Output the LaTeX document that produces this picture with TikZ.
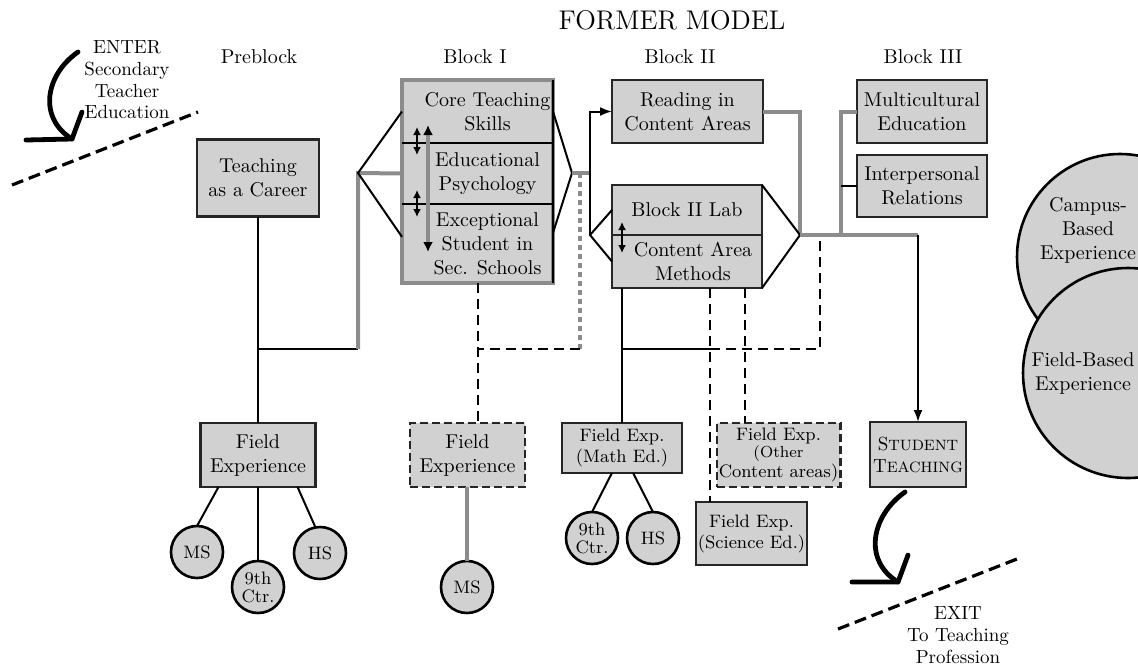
\documentclass[tikz,border=0pt]{standalone}
\usepackage{fontspec}
\usetikzlibrary{positioning,arrows.meta}

\newcommand{\indt}{\hspace*{10pt}}

\tikzset{
  blk/.style={rectangle, draw=black!85, line width=1.3pt, fill=black!18, align=center,
    inner sep=1pt, outer sep=0pt, font=\fontsize{10}{12}\selectfont},
  blkfill/.style={blk, draw=none},
  smallblk/.style={blk, font=\fontsize{9}{10.5}\selectfont},
  dashblk/.style={blk, dash pattern=on 4pt off 2pt},
  ring/.style={circle, draw=black, line width=1.3pt, fill=black!18, minimum size=26pt,
    inner sep=0pt, outer sep=0pt, align=center, font=\fontsize{9}{9}\selectfont},
  hd/.style={font=\fontsize{10}{12}\selectfont, align=center},
  wire/.style={line width=1pt},
  greywire/.style={draw=black!45, line width=2pt},
  dashwire/.style={line width=1pt, dash pattern=on 5pt off 3pt},
  greydots/.style={draw=black!45, line width=2.2pt, dash pattern=on 2.5pt off 2pt},
  dblarrow/.style={{Latex[length=4pt,width=4pt]}-{Latex[length=4pt,width=4pt]}, line width=1pt},
  bigarrow/.style={line width=2.4pt, line cap=round, line join=round},
  cutline/.style={line width=1.6pt, dash pattern=on 6pt off 3pt},
}

\begin{document}
\begin{tikzpicture}[x=0.5pt, y=-0.5pt]
  \clip (0,0) rectangle (1138,665);

  % headings
  \node[font=\fontsize{13.5}{16}\selectfont] (title) at (672,20) {FORMER MODEL};
  \node[hd] (hPre) at (259,57) {Preblock};
  \node[hd] (hI) at (475,57) {Block I};
  \node[hd] (hII) at (680,57) {Block II};
  \node[hd] (hIII) at (923,57) {Block III};
  \node[hd, font=\fontsize{9.5}{10.8}\selectfont] (enter) at (127,80) {ENTER\\Secondary\\Teacher\\Education};
  \node[hd, font=\fontsize{9.5}{10.8}\selectfont] (exit) at (958,635) {EXIT\\To Teaching\\Profession};

  % preblock
  \node[blk, minimum width=61pt, minimum height=38.5pt] (career) at (258,178) {Teaching\\as a Career};
  \node[blk, minimum width=57.5pt, minimum height=32pt] (fe0) at (258,455) {Field\\Experience};

  % block I
  \node[blkfill, minimum width=75.5pt, minimum height=31.5pt] (core) at (477.5,111.5) {\indt Core Teaching\\\indt Skills};
  \node[blkfill, minimum width=75.5pt, minimum height=30.5pt, below=0pt of core] (edu) {\indt Educational\\\indt Psychology};
  \node[blkfill, minimum width=75.5pt, minimum height=39.5pt, below=0pt of edu] (exc)
    {\indt Exceptional\\\indt Student in\\\indt Sec. Schools};
  \draw[greywire] (core.north west) rectangle (exc.south east);
  \draw[wire, line width=1.3pt] (core.north east) -- (exc.south east);
  \draw[wire, line width=1.3pt] (core.south west) -- (core.south east);
  \draw[wire, line width=1.3pt] (edu.south west) -- (edu.south east);

  % block II
  \node[blk, minimum width=75.5pt, minimum height=31.5pt] (read) at (687.5,111.5) {Reading in\\Content Areas};
  \node[blk, minimum width=75pt, minimum height=25pt] (lab) at (687,210) {Block II Lab};
  \node[blk, minimum width=75pt, minimum height=26.5pt, below=0pt of lab] (meth)
    {\hspace*{6pt}Content Area\\\hspace*{6pt}Methods};

  % block III
  \node[blk, minimum width=65pt, minimum height=31.5pt] (multi) at (922,111.5) {Multicultural\\Education};
  \node[blk, minimum width=65pt, minimum height=31pt] (inter) at (922,186) {Interpersonal\\Relations};

  \node[ring, minimum size=103pt] (campus) at (1120,257) {};
  \node[ring, minimum size=105pt] (field) at (1128,373) {};
  \node[hd] (campusTxt) at (1088,230) {Campus-\\Based\\Experience};
  \node[hd] (fieldTxt) at (1083,373) {Field-Based\\Experience};

  % field experiences
  \node[dashblk, minimum width=57.5pt, minimum height=32pt] (fe1) at (467.5,455) {Field\\Experience};
  \node[smallblk, minimum width=60pt, minimum height=25pt] (math) at (622,448) {Field Exp.\\(Math Ed.)};
  \node[dashblk, minimum width=55.5pt, minimum height=32pt, font=\fontsize{9}{8.5}\selectfont] (other) at (778.5,455)
    {Field Exp.\\\fontsize{8}{8.5}\selectfont(Other\\Content areas)};
  \node[smallblk, minimum width=54.5pt, minimum height=31.5pt] (sci) at (751.5,533.5) {Field Exp.\\(Science Ed.)};
  \node[blk, minimum width=48pt, minimum height=32.5pt, font=\fontsize{9.5}{11}\selectfont] (stud) at (918,454.5)
    {S{\fontsize{7.5}{8}\selectfont TUDENT}\\T{\fontsize{7.5}{8}\selectfont EACHING}};

  \node[ring] (ms0) at (197,552) {MS};
  \node[ring] (ctr0) at (258,587) {9th\\Ctr.};
  \node[ring] (hs0) at (320,553) {HS};
  \node[ring] (ms1) at (467,587) {MS};
  \node[ring] (ctr1) at (592,538) {9th\\Ctr.};
  \node[ring] (hs1) at (653,538) {HS};

  % preblock connectors
  \coordinate (jPre) at (258,349);
  \coordinate (lI) at (358,173);
  \draw[wire] (career) -- (fe0);
  \draw[wire] (jPre) -- (jPre -| lI);
  \draw[greywire] (jPre -| lI) -- (lI) -- (edu.west);
  \draw[wire] (core.west) -- (lI) -- (exc.175);
  \draw[wire] (fe0.219) -- (ms0.north);
  \draw[wire] (fe0.south) -- (ctr0.north);
  \draw[wire] (fe0.-39) -- (hs0.100);

  % block I connectors
  \coordinate (rI) at (572,173);
  \coordinate (lII) at (590,235);
  \coordinate (dI) at (580,349);
  \draw[wire] (core.east) -- (rI) -- (exc.8);
  \draw[greywire] (rI) -- (rI -| lII);
  \draw[greydots] (dI |- rI) -- (dI);
  \draw[dashwire] (dI) -- (dI -| exc.south);
  \draw[dashwire] (exc.south) -- (fe1.north -| exc.south);
  \draw[greywire] (fe1.south -| ms1.north) -- (ms1.north);
  \draw[draw=black!45, line width=2pt, {Latex[black,length=5pt,width=5pt]}-{Latex[black,length=5pt,width=5pt]}]
    ([xshift=13pt,yshift=9pt]core.south west) -- ([xshift=13pt,yshift=-54.5pt]core.south west);
  \draw[dblarrow] ([xshift=7.5pt,yshift=8pt]core.south west) -- ([xshift=7.5pt,yshift=-6pt]core.south west);
  \draw[dblarrow] ([xshift=7.5pt,yshift=7pt]edu.south west) -- ([xshift=7.5pt,yshift=-6.5pt]edu.south west);

  % block II connectors
  \coordinate (rII) at (800,235);
  \coordinate (bIII) at (841,235);
  \coordinate (jIII) at (918,235);
  \draw[wire, -{Latex[length=6pt]}] (lII) |- (read.west);
  \draw[wire] (lab.west) -- (lII) -- (meth.west);
  \draw[greywire] (read.east) -| (rII);
  \draw[wire] (lab.north east) -- (rII) -- (meth.south east);
  \draw[dblarrow] ([xshift=5pt,yshift=6.5pt]lab.south west) -- ([xshift=5pt,yshift=-9pt]lab.south west);

  \coordinate (dSci) at (710,349);
  \coordinate (dOth) at (745,349);
  \coordinate (dIII) at (820,349);
  \draw[wire] (math.north |- meth.south) -- (math.north);
  \draw[wire] (math.north |- dSci) -- (dSci);
  \draw[dashwire] (dSci) -- (dIII) -- (dIII |- rII);
  \draw[dashwire] (dSci |- meth.south) -- (dSci |- sci.north);
  \draw[dashwire] (dOth |- meth.south) -- (dOth |- other.north);
  \draw[wire] (math.248) -- (ctr1.north);
  \draw[wire] (math.294) -- (hs1.north);

  % block III connectors
  \draw[greywire] (rII) -- (jIII);
  \draw[greywire] (bIII) |- (multi.west);
  \draw[wire] (bIII |- inter.west) -- (inter.west);
  \draw[wire, -{Latex[length=6pt]}] (jIII) -- (stud.north);

  % enter and exit
  \coordinate (enTip) at (72,139);
  \coordinate (exTip) at (898,582);
  \draw[bigarrow] (78,52) .. controls (45,75) and (38,118) .. (enTip);
  \draw[bigarrow] (26,140) -- (enTip) -- (82,112);
  \draw[cutline] (12,185) -- (198,112);
  \draw[bigarrow] (905,492) .. controls (872,515) and (862,560) .. (exTip);
  \draw[bigarrow] (852,582) -- (exTip) -- (908,555);
  \draw[cutline] (838,629) -- (1022,557);
\end{tikzpicture}
\end{document}
